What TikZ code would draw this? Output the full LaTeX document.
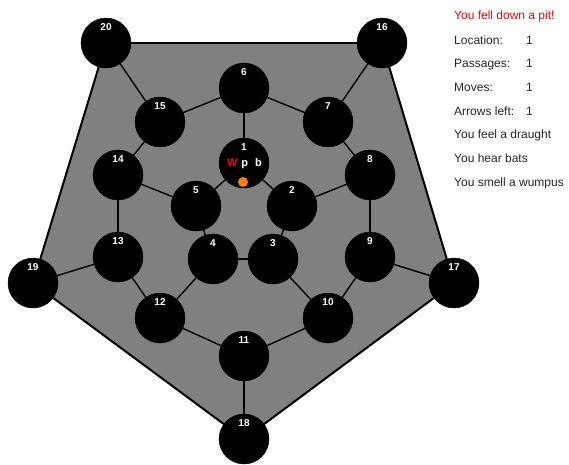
\documentclass[tikz,border=0pt]{standalone}
\usepackage{fontspec}
\setmainfont{Liberation Sans}
\usetikzlibrary{backgrounds}

\begin{document}
\begin{tikzpicture}[
    x=1pt, y=-1pt,
    room/.style={circle, fill=black, draw=black, minimum size=50pt, inner sep=0pt,
      label={[roomnum]center:#1}},
    roomnum/.style={font=\bfseries\fontsize{10}{11}\selectfont, text=white, yshift=16pt},
    tunnel/.style={draw=black, line width=1.4pt},
    rim/.style={draw=black, line width=2pt},
    status/.style={anchor=base west, font=\fontsize{12}{14}\selectfont, inner sep=0pt, text=black!85},
]
\useasboundingbox (0,0) rectangle (569,464);

% --- Outer rooms ---
\node[room=20] (r20) at (106,43) {};
\node[room=16] (r16) at (382,43) {};
\node[room=17] (r17) at (454,283) {};
\node[room=18] (r18) at (244,439) {};
\node[room=19] (r19) at (33,283) {};

% --- Middle ring ---
\node[room=6] (r6) at (244,88) {};
\node[room=7] (r7) at (328,122) {};
\node[room=8] (r8) at (370,175) {};
\node[room=9] (r9) at (370,257) {};
\node[room=10] (r10) at (328,318) {};
\node[room=11] (r11) at (244,356) {};
\node[room=12] (r12) at (160,318) {};
\node[room=13] (r13) at (118,257) {};
\node[room=14] (r14) at (118,175) {};
\node[room=15] (r15) at (160,122) {};

% --- Inner rooms ---
\node[room=1] (r1) at (244,163) {};
\node[room=2] (r2) at (292,206) {};
\node[room=3] (r3) at (273,259) {};
\node[room=4] (r4) at (213,259) {};
\node[room=5] (r5) at (196,206) {};

% --- Hazards in room 1 ---
\node[font=\bfseries\fontsize{11}{12}\selectfont, text=white, inner sep=0pt] (hz) at (244.5,164)
  {\textcolor{red}{W}\hspace{4pt}p\hspace{7pt}b};
\node[circle, fill=orange, inner sep=0pt, minimum size=10pt] (you) at (243,182) {};

% --- Floor and rim ---
\begin{scope}[on background layer]
\fill[gray] (r20.center) -- (r16.center) -- (r17.center) -- (r18.center) -- (r19.center) -- cycle;
\draw[rim] (r20) -- (r16);
\draw[rim] (r16) -- (r17);
\draw[rim] (r17) -- (r18);
\draw[rim] (r18) -- (r19);
\draw[rim] (r19) -- (r20);
\end{scope}

% --- Tunnels ---
\foreach \a/\b in {20/15, 16/7, 17/9, 18/11, 19/13,
    6/7, 7/8, 8/9, 9/10, 10/11, 11/12, 12/13, 13/14, 14/15, 15/6,
    6/1, 8/2, 10/3, 12/4, 14/5,
    1/2, 2/3, 3/4, 4/5, 5/1}
  \draw[tunnel] (r\a) -- (r\b);

% --- Status panel ---
\node[status, text=red] (msg) at (454,19) {You fell down a pit!};
\node[status] (loc) at (454,44) {Location:};
\node[status] (locv) at (526,44) {1};
\node[status] (pas) at (454,67) {Passages:};
\node[status] (pasv) at (526,67) {1};
\node[status] (mov) at (454,91) {Moves:};
\node[status] (movv) at (526,91) {1};
\node[status] (arr) at (454,115) {Arrows left:};
\node[status] (arrv) at (526,115) {1};
\node[status] (draught) at (454,138) {You feel a draught};
\node[status] (bats) at (454,162) {You hear bats};
\node[status] (smell) at (454,186) {You smell a wumpus};

\end{tikzpicture}
\end{document}
